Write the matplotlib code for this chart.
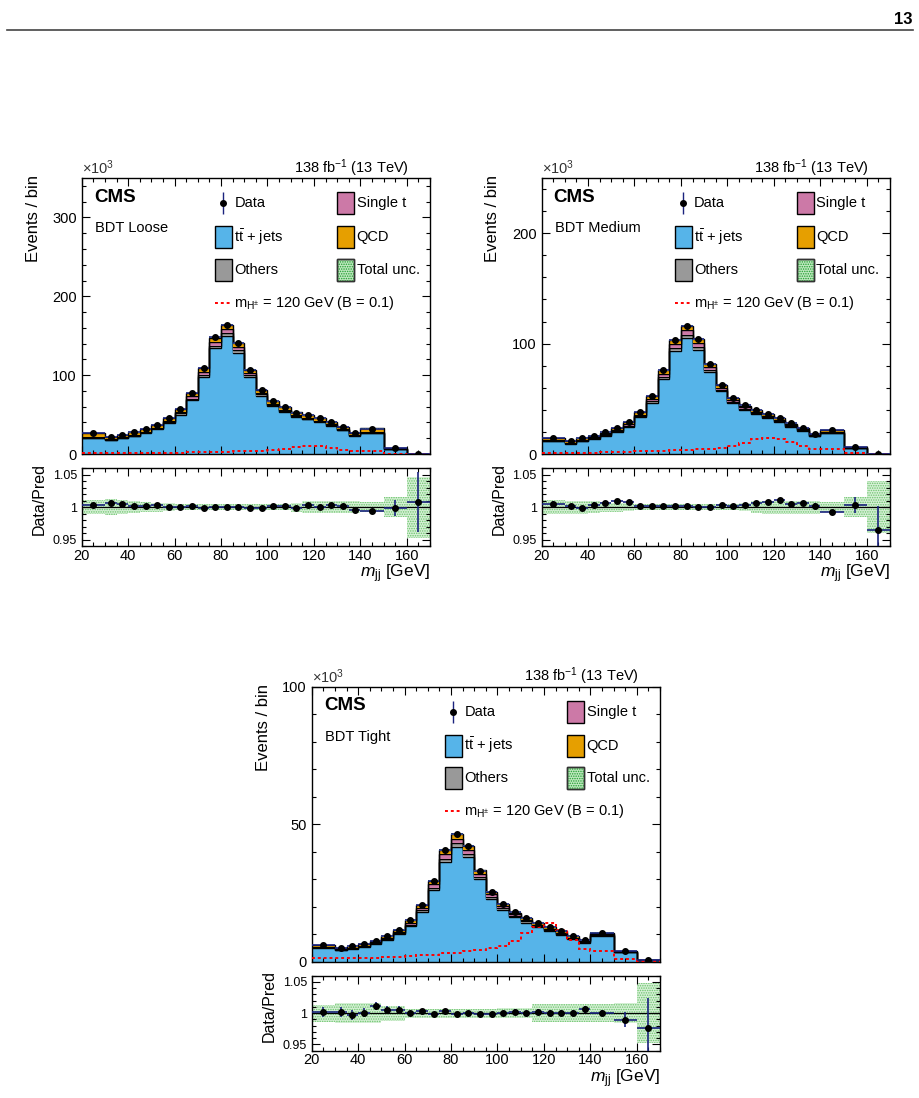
import numpy as np
import matplotlib
matplotlib.use("Agg")
import matplotlib.pyplot as plt
from matplotlib.ticker import MultipleLocator, FixedLocator
from matplotlib.patches import Rectangle
from matplotlib.lines import Line2D

plt.rcParams['font.family'] = ['Liberation Sans', 'DejaVu Sans']
plt.rcParams['mathtext.fontset'] = 'custom'
plt.rcParams['mathtext.rm'] = 'Liberation Sans'
plt.rcParams['mathtext.it'] = 'Liberation Sans:italic'
plt.rcParams['mathtext.bf'] = 'Liberation Sans:bold'
plt.rcParams['hatch.linewidth'] = 0.7

# bin edges in m_jj (GeV)
edges = [20, 30, 35, 40, 45, 50, 55, 60, 65, 70, 75, 80, 85, 90, 95, 100, 105, 110,
         115, 120, 125, 130, 135, 140, 150, 160, 170]

# ---- BDT Loose (x 10^3 events) ----
loose_tt = [20.2, 17.5, 20.1, 22.6, 26.5, 31.5, 39.2, 50.1, 68.6, 98.1, 134.4, 150.0, 128.5,
            97.5, 74.0, 60.4, 53.3, 47.4, 43.9, 40.4, 35.7, 30.3, 23.3, 26.5, 6.6, 0.33]
loose_others = [0.6, 0.5, 0.6, 0.7, 0.8, 0.9, 1.1, 1.4, 1.8, 2.4, 3.0, 3.2, 2.8, 2.1, 1.6,
                1.3, 1.2, 1.1, 1.0, 0.9, 0.8, 0.7, 0.6, 0.7, 0.2, 0.01]
loose_singlet = [0.8, 0.7, 0.8, 0.9, 1.0, 1.2, 1.5, 1.9, 2.6, 3.6, 4.8, 5.0, 4.2, 3.0, 2.2,
                 1.8, 1.6, 1.4, 1.3, 1.2, 1.1, 0.9, 0.7, 0.8, 0.2, 0.01]
loose_qcd = [5.0, 2.8, 3.0, 3.2, 3.3, 3.5, 3.8, 4.0, 4.2, 4.8, 5.5, 5.5, 5.0, 4.2, 3.6, 3.2,
             3.0, 2.8, 2.7, 2.6, 2.5, 2.3, 2.0, 4.5, 0.6, 0.05]
loose_signal = [0.8, 0.9, 1.0, 1.1, 1.2, 1.4, 1.5, 1.7, 2.0, 2.3, 2.6, 2.9, 3.2, 3.5, 3.8,
                5.0, 7.0, 8.4, 9.7, 10.0, 7.6, 5.5, 3.8, 3.8, 0.6, 0.05]
loose_ratio = [1.0026, 1.007, 1.004, 1.0016, 1.001, 1.003, 0.9995, 0.9995, 1.002, 0.998,
               1.0005, 1.0005, 0.9995, 0.9984, 0.999, 1.002, 1.0016, 0.9984, 1.0026, 1.0005,
               1.0026, 1.002, 0.9958, 0.9937, 0.999, 1.0074]
loose_ratio_err = [0.003, 0.004, 0.003, 0.003, 0.003, 0.003, 0.002, 0.002, 0.002, 0.002,
                   0.002, 0.002, 0.002, 0.002, 0.002, 0.002, 0.002, 0.002, 0.002, 0.002,
                   0.002, 0.003, 0.003, 0.002, 0.012, 0.046]
loose_unc = [0.0105, 0.012, 0.011, 0.009, 0.008, 0.007, 0.006, 0.005, 0.005, 0.004, 0.004,
             0.004, 0.004, 0.004, 0.004, 0.005, 0.005, 0.007, 0.009, 0.009, 0.009, 0.009,
             0.009, 0.008, 0.015, 0.047]

# ---- BDT Medium ----
medium_tt = [11.6, 9.4, 11.8, 14.0, 16.4, 19.9, 24.9, 33.3, 46.5, 68.1, 93.2, 105.2, 94.6,
             74.0, 56.9, 46.4, 39.9, 36.0, 32.5, 29.4, 24.9, 21.3, 16.3, 18.8, 5.4, 0.26]
medium_others = [0.4, 0.3, 0.4, 0.5, 0.6, 0.7, 0.8, 1.0, 1.4, 1.9, 2.5, 2.8, 2.4, 1.8, 1.3,
                 1.1, 1.0, 0.9, 0.8, 0.7, 0.6, 0.5, 0.4, 0.5, 0.15, 0.01]
medium_singlet = [0.5, 0.4, 0.5, 0.6, 0.7, 0.9, 1.1, 1.4, 2.0, 2.8, 3.8, 4.2, 3.6, 2.6, 1.9,
                  1.5, 1.3, 1.2, 1.0, 0.9, 0.8, 0.7, 0.5, 0.6, 0.15, 0.01]
medium_qcd = [2.0, 1.4, 1.5, 1.6, 1.7, 1.8, 2.0, 2.2, 2.5, 3.0, 3.5, 3.8, 3.4, 2.8, 2.3, 1.9,
              1.7, 1.6, 1.5, 1.4, 1.3, 1.1, 1.0, 1.6, 0.4, 0.02]
medium_signal = [0.9, 1.0, 1.1, 1.3, 1.5, 1.7, 2.0, 2.3, 2.6, 3.0, 3.4, 3.8, 4.3, 4.8, 5.5,
                 7.0, 10.0, 13.5, 14.5, 13.5, 10.5, 7.5, 4.8, 4.2, 0.9, 0.1]
medium_ratio = [1.0053, 1.001, 0.998, 1.0037, 1.0068, 1.009, 1.008, 1.0016, 1.002, 1.001,
                1.001, 1.001, 1.0005, 0.9995, 1.003, 1.001, 1.003, 1.006, 1.008, 1.0105,
                1.0047, 1.0058, 1.0016, 0.9926, 1.003, 0.9647]
medium_ratio_err = [0.004, 0.004, 0.004, 0.004, 0.003, 0.003, 0.003, 0.002, 0.002, 0.002,
                    0.002, 0.002, 0.002, 0.002, 0.002, 0.002, 0.002, 0.003, 0.003, 0.003,
                    0.003, 0.003, 0.004, 0.003, 0.012, 0.037]
medium_unc = [0.0105, 0.010, 0.010, 0.009, 0.008, 0.007, 0.006, 0.005, 0.005, 0.004, 0.004,
              0.004, 0.004, 0.004, 0.004, 0.005, 0.006, 0.009, 0.010, 0.010, 0.010, 0.010,
              0.010, 0.008, 0.015, 0.040]

# ---- BDT Tight ----
tight_tt = [5.0, 4.25, 4.7, 5.4, 6.45, 7.85, 10.0, 13.05, 18.1, 26.0, 36.3, 41.6, 37.9, 29.9,
            22.9, 18.85, 16.1, 14.2, 12.55, 11.2, 9.85, 8.2, 6.95, 9.4, 3.44, 0.56]
tight_others = [0.2, 0.15, 0.2, 0.2, 0.25, 0.3, 0.35, 0.45, 0.6, 0.9, 1.2, 1.4, 1.2, 0.9,
                0.7, 0.55, 0.5, 0.45, 0.4, 0.35, 0.3, 0.25, 0.2, 0.3, 0.08, 0.01]
tight_singlet = [0.2, 0.15, 0.2, 0.25, 0.3, 0.35, 0.45, 0.6, 0.8, 1.2, 1.6, 1.8, 1.6, 1.2,
                 0.9, 0.7, 0.6, 0.5, 0.45, 0.4, 0.35, 0.3, 0.25, 0.3, 0.08, 0.01]
tight_qcd = [0.6, 0.45, 0.5, 0.55, 0.6, 0.7, 0.8, 0.9, 1.1, 1.3, 1.5, 1.6, 1.5, 1.2, 1.0,
             0.8, 0.7, 0.65, 0.6, 0.55, 0.5, 0.45, 0.4, 0.6, 0.2, 0.02]
tight_signal = [1.2, 1.2, 1.3, 1.4, 1.5, 1.6, 1.8, 2.0, 2.3, 2.6, 3.0, 3.3, 3.8, 4.2, 4.9,
                5.8, 7.6, 10.4, 12.8, 14.0, 11.4, 7.8, 4.8, 4.0, 1.0, 0.1]
tight_ratio = [1.0015, 1.0015, 0.9974, 1.0005, 1.0113, 1.0057, 1.0057, 1.0, 1.003, 0.998,
               1.0036, 0.998, 1.001, 0.999, 0.9985, 1.0, 1.0026, 0.9995, 1.002, 1.0, 1.0005,
               1.0, 1.006, 1.0, 0.9897, 0.9768]
tight_ratio_err = [0.008, 0.008, 0.008, 0.007, 0.006, 0.005, 0.005, 0.004, 0.004, 0.003,
                   0.003, 0.003, 0.003, 0.003, 0.003, 0.004, 0.004, 0.004, 0.004, 0.005,
                   0.005, 0.005, 0.005, 0.005, 0.0125, 0.048]
tight_unc = [0.0137, 0.016, 0.016, 0.016, 0.016, 0.012, 0.012, 0.007, 0.007, 0.007, 0.007,
             0.007, 0.007, 0.007, 0.007, 0.008, 0.008, 0.008, 0.014, 0.014, 0.014, 0.014,
             0.014, 0.014, 0.016, 0.048]

C_TT = '#56B4E9'
C_OTH = '#999999'
C_ST = '#CC79A7'
C_QCD = '#E69F00'
C_UNC = '#1f9e2f'
C_ERR = '#1a237e'


def style_axis(ax):
    ax.tick_params(which='both', direction='in', top=True, right=True)
    ax.tick_params(which='major', length=6, width=0.8)
    ax.tick_params(which='minor', length=3, width=0.8)
    for s in ax.spines.values():
        s.set_linewidth(1.0)


def draw_panel(fig, rect_main, rect_ratio, comps, signal, ratio, ratio_err, unc,
               label, ymax, ymajor, yminor):
    e = np.array(edges, dtype=float)
    centers = 0.5 * (e[1:] + e[:-1])
    halfw = 0.5 * (e[1:] - e[:-1])
    ratio = np.array(ratio)
    ratio_err = np.array(ratio_err)
    unc = np.array(unc)

    ax = fig.add_axes(rect_main)
    colors = [C_TT, C_OTH, C_ST, C_QCD]
    bottom = np.zeros(len(centers))
    for vals, c in zip(comps, colors):
        top = bottom + np.array(vals)
        ax.stairs(top, e, baseline=bottom, fill=True, color=c, lw=0)
        ax.stairs(top, e, color='black', lw=1.0, baseline=None)
        bottom = top
    total = bottom
    ax.stairs(total * (1 + unc), e, baseline=total * (1 - unc), fill=True,
              facecolor='#bfe8bf', edgecolor=C_UNC, hatch='.......', lw=0, zorder=3)
    ax.stairs(signal, e, baseline=None, color='red', lw=1.4, linestyle=(0, (1.5, 1.5)),
              zorder=4)
    data = total * ratio
    ax.errorbar(centers, data, xerr=halfw, yerr=data * ratio_err, fmt='o', color='black',
                ecolor=C_ERR, elinewidth=1.2, markersize=4, capsize=0, zorder=5)
    ax.set_xlim(20, 170)
    ax.set_ylim(0, ymax)
    ax.xaxis.set_major_locator(MultipleLocator(20))
    ax.xaxis.set_minor_locator(MultipleLocator(5))
    ax.yaxis.set_major_locator(MultipleLocator(ymajor))
    ax.yaxis.set_minor_locator(MultipleLocator(yminor))
    ax.set_xticklabels([])
    style_axis(ax)
    ax.tick_params(axis='y', labelsize=10.5)
    ax.set_ylabel('Events / bin', fontsize=12, loc='top')
    ax.yaxis.set_label_coords(-0.118, 1.01)

    ax.text(0.0, 1.003, r'$\times$10$^{3}$', transform=ax.transAxes, fontsize=10.5,
            color='#333333', ha='left', va='bottom')
    ax.text(0.94, 0.998, r'138 fb$^{-1}$ (13 TeV)', transform=ax.transAxes, fontsize=10.5,
            ha='right', va='bottom')
    ax.text(0.035, 0.93, 'CMS', transform=ax.transAxes, fontsize=13.5, fontweight='bold',
            ha='left', va='center')
    ax.text(0.038, 0.818, label, transform=ax.transAxes, fontsize=10.5, ha='left',
            va='center')

    # legend, drawn by hand to follow the CMS layout
    bw, bh = 0.048, 0.08
    x1, x2 = 0.383, 0.734
    rows = [0.908, 0.786, 0.668]
    ax.errorbar([x1 + bw / 2], [rows[0]], yerr=[0.04], fmt='o', color='black', ecolor=C_ERR,
                elinewidth=1.0, markersize=4, transform=ax.transAxes, clip_on=False)
    ax.text(x1 + bw + 0.007, rows[0], 'Data', transform=ax.transAxes, fontsize=10.5,
            va='center')
    boxes = [(x1, rows[1], C_TT, r't$\bar{\mathrm{t}}$ + jets', None),
             (x1, rows[2], C_OTH, 'Others', None),
             (x2, rows[0], C_ST, 'Single t', None),
             (x2, rows[1], C_QCD, 'QCD', None),
             (x2, rows[2], '#bfe8bf', 'Total unc.', '.......')]
    for bx, by, c, txt, h in boxes:
        ax.add_patch(Rectangle((bx, by - bh / 2), bw, bh, transform=ax.transAxes,
                               facecolor=c, edgecolor='black', lw=1.0, clip_on=False))
        if h:
            ax.add_patch(Rectangle((bx, by - bh / 2), bw, bh, transform=ax.transAxes,
                                   facecolor='none', edgecolor=C_UNC, hatch=h, lw=0))
            ax.add_patch(Rectangle((bx, by - bh / 2), bw, bh, transform=ax.transAxes,
                                   facecolor='none', edgecolor='#333333', lw=1.0))
        ax.text(bx + bw + 0.007, by, txt, transform=ax.transAxes, fontsize=10.5, va='center')
    ax.add_line(Line2D([x1, x1 + bw], [0.548, 0.548], transform=ax.transAxes, color='red',
                       lw=1.4, linestyle=(0, (1.5, 1.5))))
    ax.text(x1 + bw + 0.007, 0.548, r'm$_{\mathregular{H^{\pm}}}$ = 120 GeV (B = 0.1)',
            transform=ax.transAxes, fontsize=10.5, va='center')

    # ratio panel
    rx = fig.add_axes(rect_ratio)
    rx.stairs(1 + unc, e, baseline=1 - unc, fill=True, facecolor='#d6f0d6', lw=0)
    rx.stairs(1 + unc, e, baseline=1 - unc, fill=True, facecolor='none', edgecolor='#6cc46c',
              hatch='.......', lw=0)
    rx.axhline(1.0, color='black', lw=0.9)
    rx.errorbar(centers, ratio, xerr=halfw, yerr=ratio_err, fmt='o', color='black',
                ecolor=C_ERR, elinewidth=1.2, markersize=4, capsize=0, zorder=5)
    rx.set_xlim(20, 170)
    rx.set_ylim(0.94, 1.06)
    rx.xaxis.set_major_locator(MultipleLocator(20))
    rx.xaxis.set_minor_locator(MultipleLocator(5))
    rx.yaxis.set_major_locator(FixedLocator([0.95, 1.0, 1.05]))
    rx.yaxis.set_minor_locator(MultipleLocator(0.01))
    rx.set_yticklabels(['0.95', '1', '1.05'])
    style_axis(rx)
    rx.tick_params(axis='y', labelsize=9)
    rx.tick_params(axis='x', labelsize=10.5, pad=2)
    rx.set_ylabel('Data/Pred', fontsize=11.5)
    rx.yaxis.set_label_coords(-0.1, 0.6)
    rx.set_xlabel(r'$m_{\mathrm{jj}}$ [GeV]', fontsize=12.5, loc='right', labelpad=0)


fig = plt.figure(figsize=(9.2, 10.98), dpi=100)

# page header
fig.text(0.992, 0.982, '13', fontsize=12, fontweight='bold', ha='right', va='center')
fig.add_artist(Line2D([0.008, 0.992], [0.9727, 0.9727], color='#444444', lw=1.2))

draw_panel(fig, [0.0888, 0.5865, 0.3786, 0.2514], [0.0888, 0.5027, 0.3786, 0.0710],
           [loose_tt, loose_others, loose_singlet, loose_qcd], loose_signal,
           loose_ratio, loose_ratio_err, loose_unc, 'BDT Loose', 350, 100, 20)
draw_panel(fig, [0.5886, 0.5865, 0.3788, 0.2514], [0.5886, 0.5027, 0.3788, 0.0710],
           [medium_tt, medium_others, medium_singlet, medium_qcd], medium_signal,
           medium_ratio, medium_ratio_err, medium_unc, 'BDT Medium', 250, 100, 20)
draw_panel(fig, [0.3388, 0.1241, 0.3786, 0.2505], [0.3388, 0.0431, 0.3786, 0.0683],
           [tight_tt, tight_others, tight_singlet, tight_qcd], tight_signal,
           tight_ratio, tight_ratio_err, tight_unc, 'BDT Tight', 100, 50, 10)

fig.savefig('out.png', dpi=100)
